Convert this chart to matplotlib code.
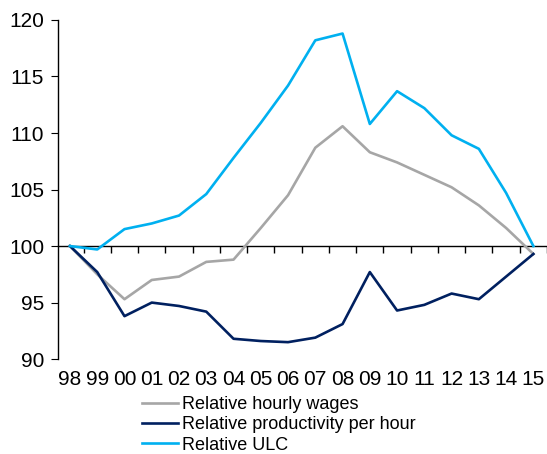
import matplotlib
matplotlib.use("Agg")
import matplotlib.pyplot as plt
import numpy as np

plt.rcParams["font.family"] = ["Liberation Sans", "DejaVu Sans"]

years = ["98", "99", "00", "01", "02", "03", "04", "05", "06",
         "07", "08", "09", "10", "11", "12", "13", "14", "15"]
wages = [100, 97.5, 95.3, 97.0, 97.3, 98.6, 98.8, 101.6, 104.5,
         108.7, 110.6, 108.3, 107.4, 106.3, 105.2, 103.6, 101.6, 99.3]
productivity = [100, 97.7, 93.8, 95.0, 94.7, 94.2, 91.8, 91.6, 91.5,
                91.9, 93.1, 97.7, 94.3, 94.8, 95.8, 95.3, 97.3, 99.3]
ulc = [100, 99.7, 101.5, 102.0, 102.7, 104.6, 107.8, 110.9, 114.2,
       118.2, 118.8, 110.8, 113.7, 112.2, 109.8, 108.6, 104.7, 100]

x = np.arange(len(years))

fig = plt.figure(figsize=(5.47, 4.54), dpi=100)
ax = fig.add_axes([0.106, 0.209, 0.894, 0.747])

ax.plot(x, wages, color="#A6A6A6", lw=1.9, label="Relative hourly wages")
ax.plot(x, productivity, color="#002060", lw=1.9, label="Relative productivity per hour")
ax.plot(x, ulc, color="#00B0F0", lw=1.9, label="Relative ULC")

ax.set_ylim(90, 120)
ax.set_yticks(range(90, 121, 5))
ax.set_xlim(-0.44, len(years) - 0.5)
ax.set_xticks(x)
ax.set_xticklabels(years)
ax.tick_params(axis="x", length=0, pad=8, labelsize=15)
ax.tick_params(axis="y", direction="out", length=5, labelsize=15, pad=5)

for s in ["top", "right", "bottom"]:
    ax.spines[s].set_visible(False)
ax.spines["left"].set_linewidth(1.0)

# category axis drawn through y = 100, ticks between categories
sec = ax.secondary_xaxis((100 - 90) / 30)
sec.set_xticks(np.arange(0.5, len(years), 1.0))
sec.set_xticklabels([])
sec.tick_params(direction="out", length=5, width=1.0)
sec.spines["bottom"].set_linewidth(1.0)

fig.legend(loc="upper left", bbox_to_anchor=(142 / 547, 1 - 396 / 454),
           frameon=False, fontsize=13, handlelength=2.0, handletextpad=0.2,
           labelspacing=0.18, borderpad=0, borderaxespad=0)

fig.savefig("out.png", dpi=100)
